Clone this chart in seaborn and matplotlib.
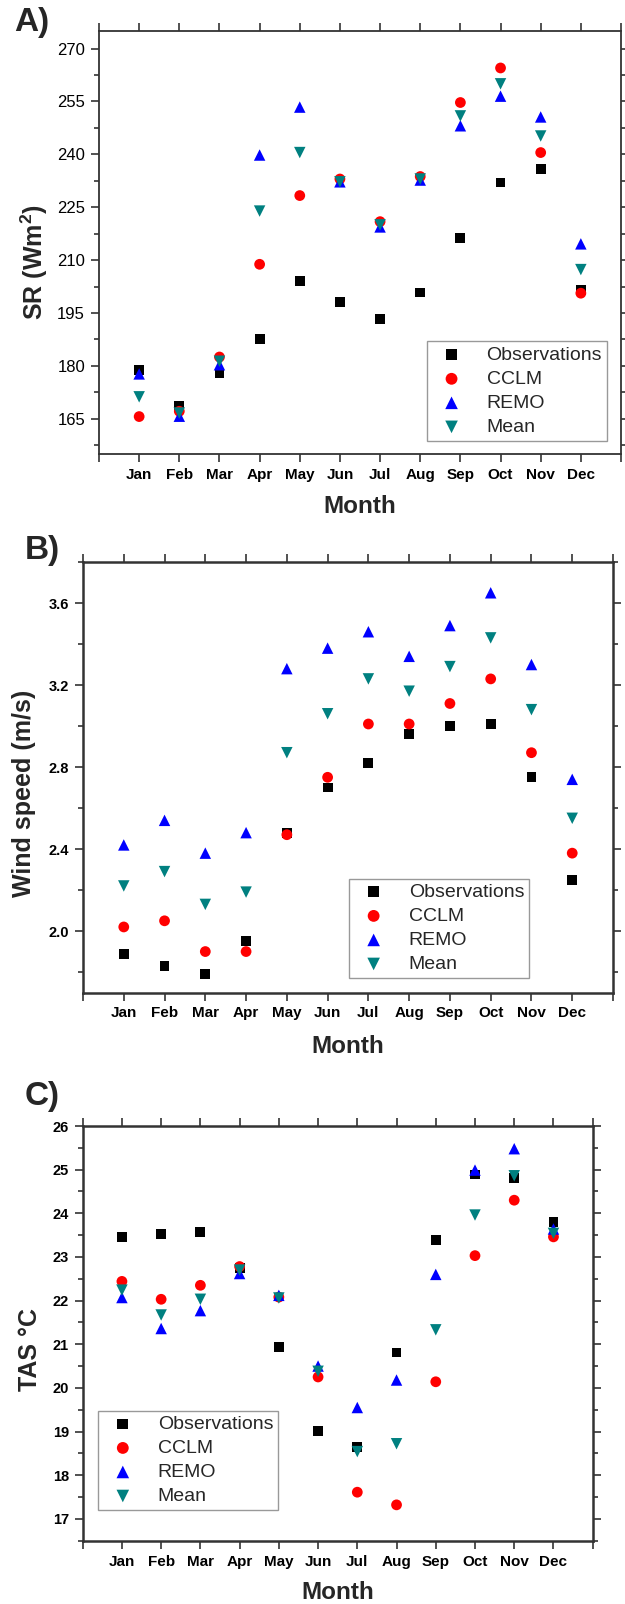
import matplotlib
matplotlib.use("Agg")
import matplotlib.pyplot as plt
import seaborn as sns
import numpy as np

sns.set_theme(style="ticks")
plt.rcParams['font.family'] = ['Liberation Sans', 'DejaVu Sans']
plt.rcParams['mathtext.fontset'] = 'custom'
plt.rcParams['mathtext.rm'] = 'Liberation Sans'
plt.rcParams['mathtext.bf'] = 'Liberation Sans:bold'

months = np.arange(1, 13)
month_labels = ["Jan", "Feb", "Mar", "Apr", "May", "Jun",
                "Jul", "Aug", "Sep", "Oct", "Nov", "Dec"]
series_names = ["Observations", "CCLM", "REMO", "Mean"]

# A) surface radiation
sr_obs = [178.8, 168.5, 177.9, 187.7, 204.1, 198.1, 193.3, 200.8, 216.3, 232.0, 235.8, 201.6]
sr_cclm = [165.6, 167.1, 182.5, 208.8, 228.3, 233.0, 220.9, 233.7, 254.7, 264.5, 240.5, 200.6]
sr_remo = [177.7, 165.7, 180.3, 239.8, 253.4, 232.2, 219.4, 232.7, 248.1, 256.5, 250.6, 214.6]
sr_mean = [171.2, 166.6, 181.3, 223.9, 240.5, 232.2, 220.0, 233.0, 250.9, 260.0, 245.2, 207.3]

# B) wind speed
ws_obs = [1.89, 1.83, 1.79, 1.95, 2.48, 2.70, 2.82, 2.96, 3.00, 3.01, 2.75, 2.25]
ws_cclm = [2.02, 2.05, 1.90, 1.90, 2.47, 2.75, 3.01, 3.01, 3.11, 3.23, 2.87, 2.38]
ws_remo = [2.42, 2.54, 2.38, 2.48, 3.28, 3.38, 3.46, 3.34, 3.49, 3.65, 3.30, 2.74]
ws_mean = [2.22, 2.29, 2.13, 2.19, 2.87, 3.06, 3.23, 3.17, 3.29, 3.43, 3.08, 2.55]

# C) near-surface air temperature
tas_obs = [23.46, 23.53, 23.58, 22.75, 20.94, 19.02, 18.65, 20.81, 23.38, 24.89, 24.81, 23.81]
tas_cclm = [22.44, 22.03, 22.35, 22.78, 22.08, 20.25, 17.61, 17.32, 20.14, 23.03, 24.30, 23.46]
tas_remo = [22.07, 21.36, 21.77, 22.62, 22.12, 20.50, 19.55, 20.18, 22.60, 24.99, 25.48, 23.64]
tas_mean = [22.24, 21.67, 22.03, 22.70, 22.06, 20.38, 18.54, 18.72, 21.33, 23.96, 24.86, 23.54]

styles = {"Observations": ("s", "black", 50),
          "CCLM": ("o", "#ff0000", 60),
          "REMO": ("^", "#0000ff", 68),
          "Mean": ("v", "#008080", 68)}

fig = plt.figure(figsize=(6.25, 16.04), dpi=100)

panels = [
    dict(pos=[0.1584, 0.7170, 0.8352, 0.2637], data=[sr_obs, sr_cclm, sr_remo, sr_mean],
         ylim=(155, 275), major=15, minor=7.5, ylabel=r"SR (Wm$^{\mathbf{2}}$)",
         ylab_xy=(-0.124, 0.454), bold_y=False, leg_loc="lower right",
         leg_anchor=(0.973, 0.031), tag="A)", tag_xy=(14, 22), lw=1.3),
    dict(pos=[0.1328, 0.3812, 0.848, 0.2684], data=[ws_obs, ws_cclm, ws_remo, ws_mean],
         ylim=(1.7, 3.8), major=0.4, minor=0.2, ylabel="Wind speed (m/s)",
         ylab_xy=(-0.111, 0.462), bold_y=True, leg_loc="lower right",
         leg_anchor=(0.8415, 0.034), tag="B)", tag_xy=(25, 551), lw=1.8),
    dict(pos=[0.1323, 0.0395, 0.816, 0.2585], data=[tas_obs, tas_cclm, tas_remo, tas_mean],
         ylim=(16.5, 26), major=1, minor=0.5, ylabel="TAS \u00b0C",
         ylab_xy=(-0.103, 0.46), bold_y=True, leg_loc="lower left",
         leg_anchor=(0.031, 0.074), tag="C)", tag_xy=(25, 1097), lw=1.8),
]

for p in panels:
    ax = fig.add_axes(p["pos"])
    for name, vals in zip(series_names, p["data"]):
        mk, col, s = styles[name]
        sns.scatterplot(x=months, y=vals, marker=mk, color=col, s=s,
                        edgecolor="none", linewidth=0, label=name, ax=ax, zorder=3)

    ax.set_xlim(0, 13)
    ax.set_ylim(*p["ylim"])
    ax.set_xticks(np.arange(0, 14))
    ax.set_xticklabels([""] + month_labels + [""], fontweight="bold", fontsize=11)
    lo, hi = p["ylim"]
    first = np.ceil(lo / p["major"]) * p["major"]
    ax.set_yticks(np.arange(first, hi + 1e-9, p["major"]))
    ax.set_yticks(np.arange(np.ceil(lo / p["minor"]) * p["minor"], hi + 1e-9, p["minor"]), minor=True)
    if p["major"] >= 1:
        ax.yaxis.set_major_formatter(matplotlib.ticker.FormatStrFormatter("%d"))
    else:
        ax.yaxis.set_major_formatter(matplotlib.ticker.FormatStrFormatter("%.1f"))
    for t in ax.get_yticklabels():
        t.set_fontsize(12 if not p["bold_y"] else 10.5)
        t.set_fontweight("bold" if p["bold_y"] else "normal")

    ax.tick_params(which="both", direction="out", top=True, right=True,
                   colors="#333333", width=1.2, labelcolor="black")
    ax.tick_params(which="major", length=6, pad=4)
    ax.tick_params(which="minor", length=3.5)
    ax.tick_params(axis="x", which="minor", bottom=False, top=False)
    for sp in ax.spines.values():
        sp.set_color("#333333")
        sp.set_linewidth(p["lw"])
    ax.grid(False)

    ax.set_xlabel("Month", fontsize=17.5, fontweight="bold", va="center")
    ax.xaxis.set_label_coords(0.5, -0.125)
    ax.set_ylabel(p["ylabel"], fontsize=18, fontweight="bold", va="center")
    ax.yaxis.set_label_coords(*p["ylab_xy"])

    leg = ax.legend(loc=p["leg_loc"], bbox_to_anchor=p["leg_anchor"], borderaxespad=0,
                    fontsize=14, frameon=True, fancybox=False, framealpha=1,
                    edgecolor="#999999", labelspacing=0.33, borderpad=0.25,
                    handletextpad=0.8, handlelength=2.0, markerscale=1.1)
    leg.get_frame().set_linewidth(1.0)

    fig.text(p["tag_xy"][0] / 625, 1 - p["tag_xy"][1] / 1604, p["tag"],
             fontsize=24, fontweight="bold", va="center", ha="left")

fig.savefig("out.png", dpi=100)
